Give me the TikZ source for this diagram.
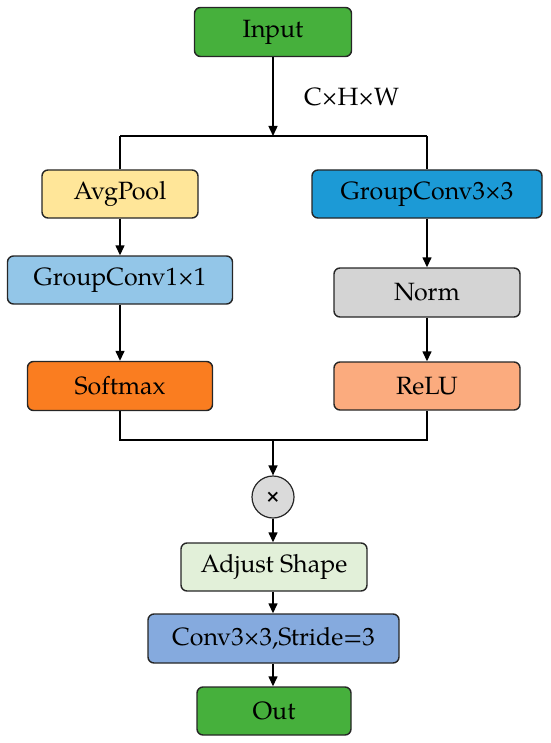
\documentclass[tikz,border=0pt]{standalone}
\usepackage{fontspec}
\setmainfont{TeX Gyre Pagella}
\usetikzlibrary{arrows.meta}
\definecolor{cgreen}{HTML}{46B03C}
\definecolor{cyellow}{HTML}{FFE699}
\definecolor{clblue}{HTML}{93C6E8}
\definecolor{corange}{HTML}{FA7D20}
\definecolor{cblue}{HTML}{1C9AD6}
\definecolor{cgray}{HTML}{D4D4D4}
\definecolor{cpeach}{HTML}{FBAB7E}
\definecolor{cmint}{HTML}{E2F0D9}
\definecolor{cconv}{HTML}{85AADE}
\definecolor{ccirc}{HTML}{DADADA}
\tikzset{
  box/.style={draw=black!85, line width=1.4pt, rounded corners=6pt, inner sep=0pt,
    align=center, font=\fontsize{25}{29}\selectfont},
  arr/.style={line width=1.4pt, -{Triangle[length=10pt,width=9pt]}},
  ln/.style={line width=1.4pt},
}
\begin{document}
\begin{tikzpicture}[x=1pt,y=-1pt]
\useasboundingbox (0,0) rectangle (550,743);
\node[box, fill=cgreen, minimum width=157pt, minimum height=49pt] (in) at (273,32) {Input};
\node[font=\fontsize{25}{28}\selectfont, anchor=west, inner sep=0pt] (lab) at (304,97) {C×H×W};
\coordinate (j) at (273,136);
\coordinate (jl) at (120,136);
\coordinate (jr) at (427,136);
\node[box, fill=cyellow, minimum width=156pt, minimum height=48pt] (avg) at (120,194) {AvgPool};
\node[box, fill=clblue, minimum width=225pt, minimum height=48pt] (gc1) at (120,280) {GroupConv1×1};
\node[box, fill=corange, minimum width=185pt, minimum height=49pt] (soft) at (120,386) {Softmax};
\node[box, fill=cblue, minimum width=230pt, minimum height=48pt] (gc3) at (427,194) {GroupConv3×3};
\node[box, fill=cgray, minimum width=186pt, minimum height=49pt] (norm) at (427,292.5) {Norm};
\node[box, fill=cpeach, minimum width=186pt, minimum height=48pt] (relu) at (427,386) {ReLU};
\coordinate (m) at (273,440);
\coordinate (ml) at (120,440);
\coordinate (mr) at (427,440);
\node[circle, draw=black!85, line width=1.2pt, fill=ccirc, minimum size=42pt, inner sep=0pt,
  font=\fontsize{21}{21}\selectfont\bfseries] (mul) at (273,497) {×};
\node[box, fill=cmint, minimum width=186pt, minimum height=48pt] (adj) at (274,567) {Adjust Shape};
\node[box, fill=cconv, minimum width=251pt, minimum height=49pt] (conv) at (273.5,638.5) {Conv3×3,Stride=3};
\node[box, fill=cgreen, minimum width=154pt, minimum height=48pt] (out) at (274,711) {Out};
\draw[arr] (in) -- (j);
\draw[ln] (jl) -- (jr);
\draw[ln] (jl) -- (avg);
\draw[ln] (jr) -- (gc3);
\draw[arr] (avg) -- (gc1);
\draw[arr] (gc1) -- (soft);
\draw[arr] (gc3) -- (norm);
\draw[arr] (norm) -- (relu);
\draw[ln] (soft) -- (ml) -- (mr) -- (relu);
\draw[arr] (m) -- (mul);
\draw[arr] (mul) -- (mul |- adj.north);
\draw[arr] (adj.south -| mul) -- (mul |- conv.north);
\draw[arr] (conv.south -| mul) -- (mul |- out.north);
\end{tikzpicture}
\end{document}
